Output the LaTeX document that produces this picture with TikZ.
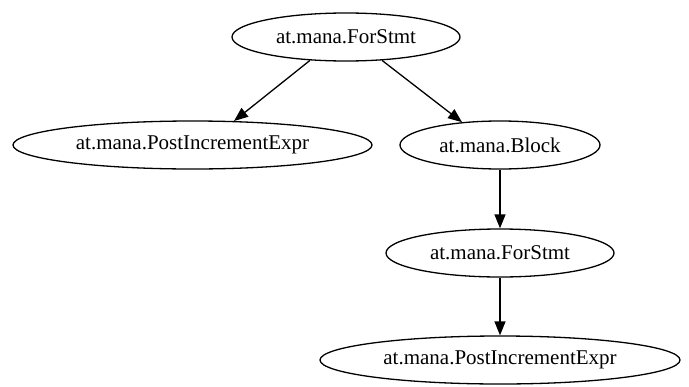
\documentclass[tikz,border=0pt]{standalone}
\usepackage{fontspec}
\setmainfont{Liberation Serif}
\usetikzlibrary{shapes.geometric,arrows.meta}
\begin{document}
\begin{tikzpicture}[x=1bp,y=1bp,
  gnode/.style={ellipse,draw,line width=1.3bp,inner sep=0pt,minimum height=48bp,font=\fontsize{21bp}{24bp}\selectfont},
  edge/.style={draw,line width=1.3bp,-{Triangle[length=14bp,width=11bp]}}]
\useasboundingbox (0,0) rectangle (689,386);
\node[gnode,minimum width=228bp] (top) at (346,349) {at.mana.ForStmt};
\node[gnode,minimum width=359bp] (left) at (192.5,241) {at.mana.PostIncrementExpr};
\node[gnode,minimum width=200bp] (block) at (500,241) {at.mana.Block};
\node[gnode,minimum width=228bp] (for2) at (500,133) {at.mana.ForStmt};
\node[gnode,minimum width=360bp] (post2) at (500,26) {at.mana.PostIncrementExpr};
\path[edge] (top.213) -- (left.30);
\path[edge] (top.327) -- (block.149);
\path[edge] (block) -- (for2);
\path[edge] (for2) -- (post2);
\end{tikzpicture}
\end{document}
